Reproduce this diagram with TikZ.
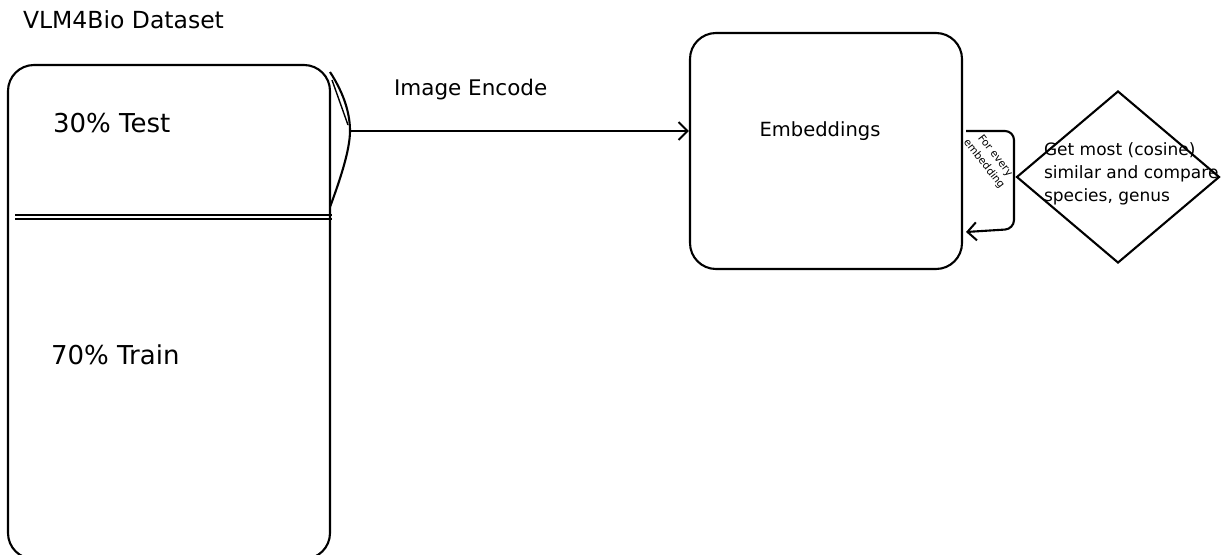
\documentclass[tikz,border=0pt]{standalone}
\usepackage{fontspec}
\setmainfont{DejaVu Sans}
\usetikzlibrary{arrows.meta,shapes.geometric}
\begin{document}
\begin{tikzpicture}[x=1pt,y=-1pt,
  line width=2.1pt,
  sketchbox/.style={draw,rounded corners=26pt,inner sep=0pt},
  lbl/.style={inner sep=0pt,anchor=base west},
  barb/.style={-{Straight Barb[length=9pt,width=18pt,line width=2pt]}}]
\useasboundingbox (0,0) rectangle (1225,554);
% title
\node[lbl,font=\fontsize{23.5}{27}\selectfont] (title) at (22,28) {VLM4Bio Dataset};
% dataset box
\node[sketchbox,minimum width=322pt,minimum height=494pt] (ds) at (169,312) {};
\node[lbl,font=\fontsize{26}{30}\selectfont] (test) at (52,132) {30\% Test};
\node[lbl,font=\fontsize{26}{30}\selectfont] (train) at (50,364) {70\% Train};
\draw[line width=1.6pt] (15,215) -- (332,215);
\draw[line width=1.6pt] (15,219) -- (332,219);
% bracket
\coordinate (bt) at (330,72);
\coordinate (bm) at (350,131);
\coordinate (bb) at (330,207);
\draw (bt) .. controls (345,95) and (350,115) .. (bm) .. controls (350,150) and (340,180) .. (bb);
\draw[line width=1.4pt] (332,80) -- (348,125);
% embeddings box
\node[sketchbox,minimum width=272pt,minimum height=236pt] (emb) at (826,151) {};
\node[font=\fontsize{19.5}{23}\selectfont,inner sep=0pt] (embt) at (820,131) {Embeddings};
% image encode arrow
\draw[barb] (bm) -- (emb.west |- bm);
\node[lbl,font=\fontsize{21.5}{25}\selectfont] (enc) at (393,95) {Image Encode};
% loop arrow
\coordinate (la) at (966,131);
\coordinate (lb) at (966,232);
\draw[barb,rounded corners=9pt] (la) -- (1014,131) -- (1014,229) -- (lb);
\node[font=\fontsize{10.5}{12}\selectfont,inner sep=0pt,rotate=-52] (fe1) at (995,156) {For every};
\node[font=\fontsize{10.5}{12}\selectfont,inner sep=0pt,rotate=-52] (fe2) at (984,164) {embedding};
% diamond
\node[draw,diamond,minimum width=203pt,minimum height=172pt,inner sep=0pt] (dm) at (1118,177) {};
\node[font=\fontsize{17}{23}\selectfont,align=left,anchor=north west,inner sep=0pt] (dmt) at (1043,142) {Get most (cosine)\\similar and compare\\species, genus};
\end{tikzpicture}
\end{document}
